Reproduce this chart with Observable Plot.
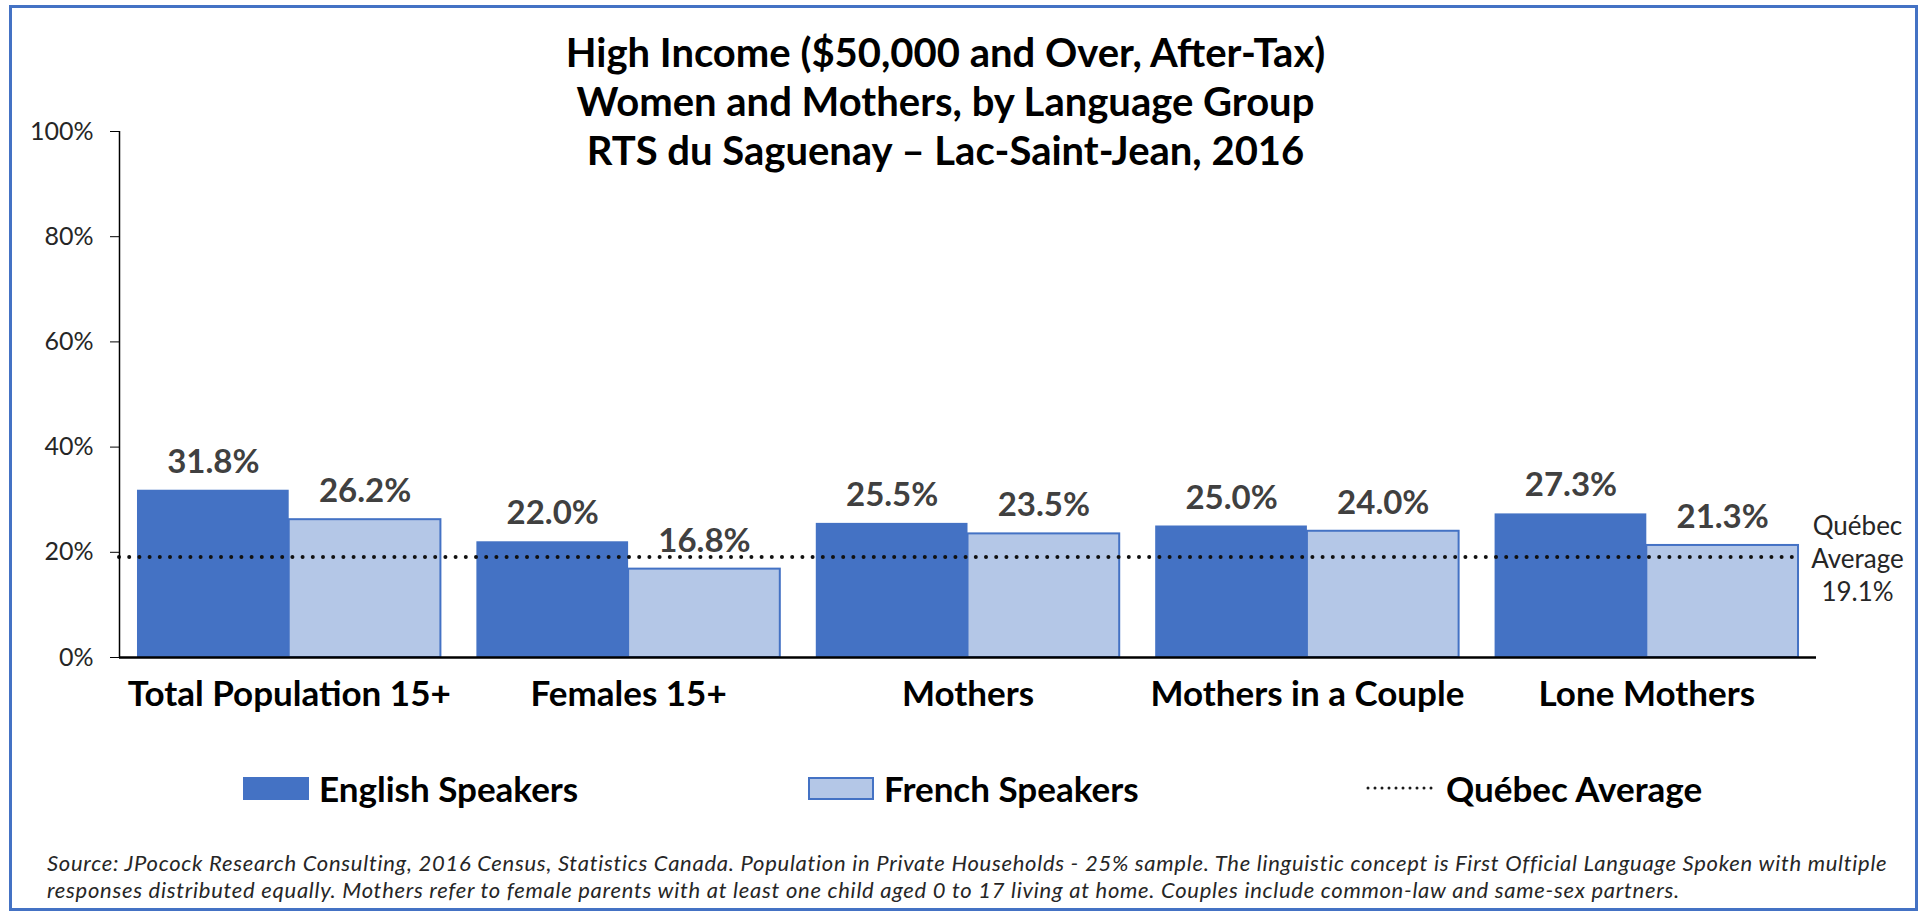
<!DOCTYPE html>
<html>
<head>
<meta charset="utf-8">
<script src="https://cdn.jsdelivr.net/npm/d3@7"></script>
<script src="https://cdn.jsdelivr.net/npm/@observablehq/plot@0.6"></script>
<style>
  html, body { margin: 0; padding: 0; background: #fff; }
  body { width: 1925px; height: 916px; position: relative; overflow: hidden; font-family: Lato, "Open Sans", sans-serif; }
  #frame { position: absolute; left: 9px; top: 5px; width: 1909px; height: 906px; border: 3px solid #4472C4; box-sizing: border-box; }
  #title { position: absolute; left: -17px; width: 1925px; top: 28px; text-align: center; font-weight: 700; font-size: 40px; line-height: 49px; color: #000; }
  #chart { position: absolute; left: 0; top: 0; }
  .leg { position: absolute; top: 768px; height: 40px; display: flex; align-items: center; font-weight: 700; font-size: 35px; color: #000; }
  .sw { display: inline-block; width: 66px; height: 23px; margin-right: 10px; box-sizing: border-box; }
  #note { position: absolute; left: 47px; top: 849px; font-style: italic; font-size: 22px; letter-spacing: 0.72px; line-height: 27px; color: #262626; white-space: nowrap; }
</style>
</head>
<body>
<div id="frame"></div>
<div id="chart"></div>
<div id="title">High Income ($50,000 and Over, After-Tax)<br>Women and Mothers, by Language Group<br>RTS du Saguenay – Lac-Saint-Jean, 2016</div>
<div class="leg" style="left:243px"><span class="sw" style="background:#4472C4"></span>English Speakers</div>
<div class="leg" style="left:808px"><span class="sw" style="background:#B4C7E7;border:2px solid #4472C4"></span>French Speakers</div>
<div class="leg" style="left:1366px"><svg width="72" height="10" style="margin-right:8px"><line x1="2" y1="5" x2="70" y2="5" stroke="#1a1a1a" stroke-width="3" stroke-dasharray="0 7" stroke-linecap="round"/></svg>Québec Average</div>
<div id="note">Source: JPocock Research Consulting, 2016 Census, Statistics Canada. Population in Private Households - 25% sample. The linguistic concept is First Official Language Spoken with multiple<br>responses distributed equally. Mothers refer to female parents with at least one child aged 0 to 17 living at home. Couples include common-law and same-sex partners.</div>
<script>
const categories = ["Total Population 15+", "Females 15+", "Mothers", "Mothers in a Couple", "Lone Mothers"];
const english = [31.8, 22.0, 25.5, 25.0, 27.3];
const french = [26.2, 16.8, 23.5, 24.0, 21.3];
const quebecAverage = 19.1;
const yTicks = [0, 20, 40, 60, 80, 100];

const rows = categories.map((cat, i) => ({i, cat, eng: english[i], fr: french[i]}));
const half = 0.447;
const fmt = v => v.toFixed(1) + "%";

const chart = Plot.plot({
  width: 1925,
  height: 760,
  marginTop: 131,
  marginBottom: 103,
  marginLeft: 119,
  marginRight: 109,
  x: {domain: [-0.5, 4.5], axis: null},
  y: {domain: [0, 100], axis: null},
  style: {fontFamily: "Lato, 'Open Sans', sans-serif", background: "transparent", color: "#262626", overflow: "visible"},
  marks: [
    Plot.rectY(rows, {x1: d => d.i - half, x2: d => d.i, y: "eng", fill: "#4472C4"}),
    Plot.rectY(rows, {x1: d => d.i, x2: d => d.i + half, y: "fr", fill: "#B4C7E7", stroke: "#4472C4", strokeWidth: 2}),
    Plot.ruleY([quebecAverage], {x1: -0.5, x2: 4 + half, stroke: "#111", strokeWidth: 4, strokeDasharray: "0 10.2", strokeLinecap: "round"}),
    Plot.ruleX([-0.5], {y1: 0, y2: 100, stroke: "#000", strokeWidth: 1.5}),
    Plot.ruleY([0], {stroke: "#000", strokeWidth: 2.5}),
    Plot.axisY({ticks: yTicks, tickFormat: d => d + "%", tickSize: 9, tickPadding: 17, fontSize: 25, stroke: "#000"}),
    Plot.text(rows, {x: d => d.i - half / 2, y: "eng", text: d => fmt(d.eng), dy: -28, fontSize: 33, fontWeight: "bold", fill: "#404040"}),
    Plot.text(rows, {x: d => d.i + half / 2, y: "fr", text: d => fmt(d.fr), dy: -28, fontSize: 33, fontWeight: "bold", fill: "#404040"}),
    Plot.text(rows, {x: "i", text: "cat", frameAnchor: "bottom", dy: 48, fontSize: 35, fontWeight: "bold", fill: "#000"}),
    Plot.text([quebecAverage], {x: 4.5, y: d => d, dx: 41, text: d => `Québec\nAverage\n${d}%`, fontSize: 26, lineHeight: 1.27, fill: "#262626"})
  ]
});
document.getElementById("chart").appendChild(chart);
</script>
</body>
</html>
